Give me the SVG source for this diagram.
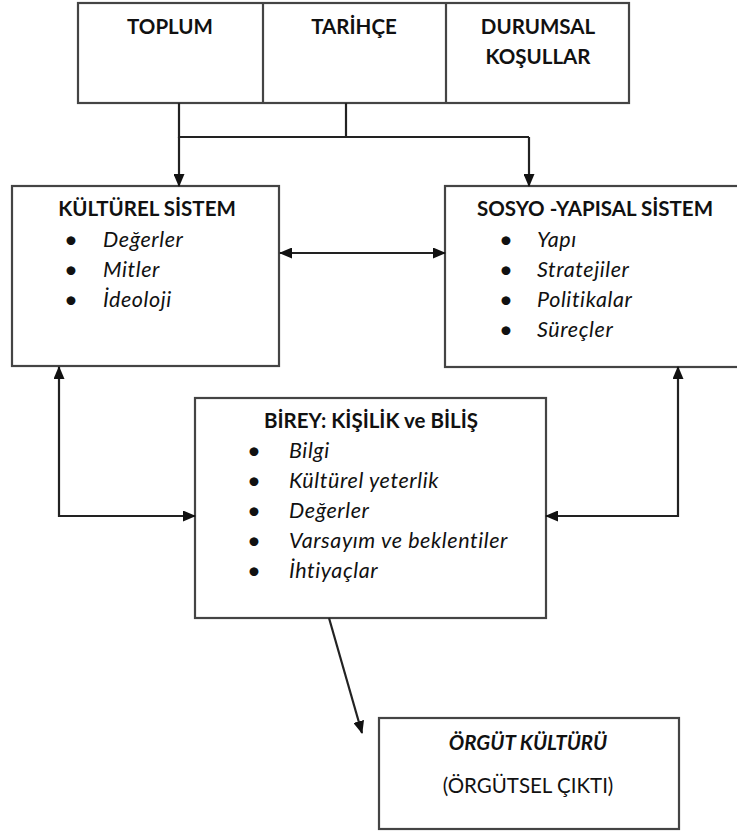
<svg xmlns="http://www.w3.org/2000/svg" width="737" height="832" viewBox="0 0 737 832">
<defs>
<marker id="ah" markerUnits="userSpaceOnUse" markerWidth="13" markerHeight="11" refX="12" refY="5.5" orient="auto-start-reverse">
<path d="M0,0 L13,5.5 L0,11 z" fill="#111"/>
</marker>
</defs>
<style>
.box{fill:#fff;stroke:#444;stroke-width:2.2}
.con{fill:none;stroke:#222;stroke-width:2.2}
.t{font-family:Lato,"Liberation Sans",sans-serif;fill:#111;font-variant-ligatures:none}
.h{font-weight:bold;font-size:20.5px}
.i{font-style:italic;font-size:21.5px;letter-spacing:0.6px}
.d{font-size:24px}
.b{font-size:20.5px}
</style>
<rect width="737" height="832" fill="#fff"/>
<g id="top">
<rect class="box" x="78" y="3" width="551" height="100"/>
<line class="box" x1="263" y1="3" x2="263" y2="103"/>
<line class="box" x1="446" y1="3" x2="446" y2="103"/>
<text class="t h" x="170" y="34" text-anchor="middle">TOPLUM</text>
<text class="t h" x="354" y="34" text-anchor="middle">TARİHÇE</text>
<text class="t h" x="538" y="34" text-anchor="middle">DURUMSAL</text>
<text class="t h" x="538" y="64" text-anchor="middle">KOŞULLAR</text>
</g>
<g id="kulturel">
<rect class="box" x="12" y="186" width="267" height="180"/>
<text class="t h" x="147" y="216" text-anchor="middle">KÜLTÜREL SİSTEM</text>
<g class="t d"><text x="64" y="248">•</text><text x="64" y="278">•</text><text x="64" y="308">•</text></g>
<g class="t i"><text x="103" y="247">Değerler</text><text x="103" y="277">Mitler</text><text x="103" y="307">İdeoloji</text></g>
</g>
<g id="sosyo">
<rect class="box" x="445" y="186" width="296" height="181"/>
<text class="t h" x="595" y="216" text-anchor="middle">SOSYO -YAPISAL SİSTEM</text>
<g class="t d"><text x="499" y="248">•</text><text x="499" y="278">•</text><text x="499" y="308">•</text><text x="499" y="338">•</text></g>
<g class="t i"><text x="537" y="247">Yapı</text><text x="537" y="277">Stratejiler</text><text x="537" y="307">Politikalar</text><text x="537" y="337">Süreçler</text></g>
</g>
<g id="birey">
<rect class="box" x="195" y="398" width="351" height="220"/>
<text class="t h" x="371" y="428" text-anchor="middle">BİREY: KİŞİLİK ve BİLİŞ</text>
<g class="t d"><text x="247" y="459">•</text><text x="247" y="489">•</text><text x="247" y="519">•</text><text x="247" y="549">•</text><text x="247" y="579">•</text></g>
<g class="t i"><text x="289" y="458">Bilgi</text><text x="289" y="488">Kültürel yeterlik</text><text x="289" y="518">Değerler</text><text x="289" y="548">Varsayım ve beklentiler</text><text x="289" y="578">İhtiyaçlar</text></g>
</g>
<g id="orgut">
<rect class="box" x="379" y="718" width="300" height="111"/>
<text class="t h" x="528" y="750" text-anchor="middle" font-style="italic" font-size="22px">ÖRGÜT KÜLTÜRÜ</text>
<text class="t b" x="528" y="793" text-anchor="middle">(ÖRGÜTSEL ÇIKTI)</text>
</g>
<g id="connectors">
<path class="con" d="M179,103 V137 H529"/>
<path class="con" d="M346,103 V137"/>
<path class="con" d="M179,137 V186" marker-end="url(#ah)"/>
<path class="con" d="M529,137 V186" marker-end="url(#ah)"/>
<path class="con" d="M280,253 H445" marker-start="url(#ah)" marker-end="url(#ah)"/>
<path class="con" d="M59,367 V516 H195" marker-start="url(#ah)" marker-end="url(#ah)"/>
<path class="con" d="M678,367 V516 H546" marker-start="url(#ah)" marker-end="url(#ah)"/>
<path class="con" d="M329,618 L362,733" marker-end="url(#ah)"/>
</g>
</svg>
